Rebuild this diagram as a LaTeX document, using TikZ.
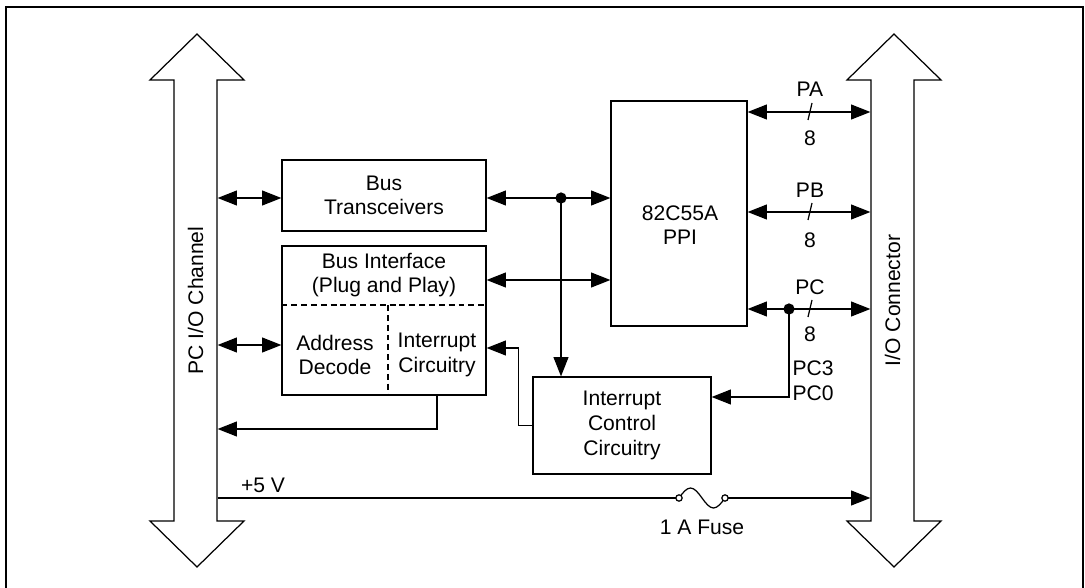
\documentclass[tikz,border=0pt]{standalone}
\usepackage{fontspec}
\setmainfont{Liberation Sans}
\usetikzlibrary{arrows.meta}
\tikzset{
  block/.style={draw, align=center, inner sep=0pt},
  txt/.style={align=center, inner sep=0pt},
  busbody/.style={inner sep=0pt, minimum width=0.86cm, minimum height=8.82cm},
  tapdot/.style={fill=black},
  split line/.style={dash pattern=on 3.4pt off 2.2pt},
}
\begin{document}
\begin{tikzpicture}[x=0.02cm, y=-0.02cm, line width=0.7pt,
    >={Triangle[length=11pt,width=8.5pt]},
    font=\fontsize{12}{14}\selectfont]
  \useasboundingbox (0,0) rectangle (1085,588);
  \draw[line width=1.5pt] (6,590) -- (6,7) -- (1083,7) -- (1083,590);

  \node[busbody] (pcbus) at (195.5,300.5) {};
  \node[busbody] (iobus) at (892.5,300.5) {};
  \draw (174,521) -- (174,80) -- (150,80) -- (197,34) -- (244,80) -- (217,80)
    -- (217,521) -- (244,521) -- (197,567) -- (150,521) -- cycle;
  \draw (871,521) -- (871,80) -- (847,80) -- (894,34) -- (941,80) -- (914,80)
    -- (914,521) -- (941,521) -- (894,567) -- (847,521) -- cycle;
  \node[txt, rotate=90] (pclabel) at (pcbus) {PC I/O Channel};
  \node[txt, rotate=90] (iolabel) at (iobus) {I/O Connector};

  \node[block, minimum width=4.08cm, minimum height=1.42cm] (tr) at (384,195.5) {Bus\\Transceivers};
  \node[block, minimum width=4.08cm, minimum height=2.98cm] (bi) at (384,320.5) {};
  \node[txt] (bitop) at (384,275) {Bus Interface\\(Plug and Play)};
  \node[txt] (ad) at (335,355) {Address\\Decode};
  \node[txt] (ic) at (437,355) {Interrupt\\Circuitry};
  \node[block, minimum width=2.72cm, minimum height=4.5cm] (ppi) at (679,213.5) {};
  \node[txt] (ppilabel) at (680,225) {82C55A\\PPI};
  \node[block, minimum width=3.56cm, minimum height=1.94cm] (icc) at (622,425.5) {Interrupt\\Control\\Circuitry};

  \coordinate (split) at (388,305);
  \draw[split line] (bi.west |- split) -- (bi.east |- split);
  \draw[split line] (split) -- (split |- bi.south);

  \coordinate (rowT) at (0,198);
  \coordinate (rowI) at (0,280);
  \coordinate (rowD) at (0,345);
  \coordinate (rowR) at (0,348);
  \coordinate (rowB) at (0,429);
  \coordinate (rowPA) at (0,112);
  \coordinate (rowPB) at (0,212);
  \coordinate (rowPC) at (0,309);
  \coordinate (rowC0) at (0,397);
  \coordinate (rowV) at (0,498);
  \coordinate (tap) at (561,198);
  \coordinate (pctap) at (789,309);
  \coordinate (fuseL) at (679,498);
  \coordinate (fuseR) at (725,498);

  \draw[<->] (pcbus.east |- rowT) -- (tr.west |- rowT);
  \draw[<->] (tr.east |- rowT) -- (ppi.west |- rowT);
  \draw[<->] (bi.east |- rowI) -- (ppi.west |- rowI);
  \draw[<->] (pcbus.east |- rowD) -- (bi.west |- rowD);
  \draw[->] (ic |- bi.south) |- (pcbus.east |- rowB);
  \draw[->] (icc.west) -- ++(-14,0) |- (bi.east |- rowR);
  \draw[->] (tap) -- (tap |- icc.north);
  \fill[tapdot] (tap) circle (3.2pt);

  \draw[<->] (ppi.east |- rowPA) -- (iobus.west |- rowPA);
  \draw[<->] (ppi.east |- rowPB) -- (iobus.west |- rowPB);
  \draw[<->] (ppi.east |- rowPC) -- (iobus.west |- rowPC);
  \draw (808,120) -- (812,103);
  \draw (808,220) -- (812,203);
  \draw (808,317) -- (812,300);
  \node[txt] (pa) at (810,89) {PA};
  \node[txt] (pa8) at (810,138) {8};
  \node[txt] (pb) at (810,190) {PB};
  \node[txt] (pb8) at (810,240) {8};
  \node[txt] (pc) at (810,287) {PC};
  \node[txt] (pc8) at (810,334) {8};
  \draw[->] (pctap) |- (icc.east |- rowC0);
  \fill[tapdot] (pctap) circle (3.2pt);
  \node[txt, anchor=west] (pc3) at (792,368) {PC3};
  \node[txt, anchor=west] (pc0) at (792,393) {PC0};

  \draw (pcbus.east |- rowV) -- (fuseL);
  \draw (fuseL) sin (690.5,488) cos (702,498) sin (713.5,508) cos (fuseR);
  \draw[->] (fuseR) -- (iobus.west |- rowV);
  \draw[fill=white] (fuseL) circle (1.8pt);
  \draw[fill=white] (fuseR) circle (1.8pt);
  \node[txt] (vlabel) at (263,485) {+5 V};
  \node[txt] (fuselabel) at (702,527) {1 A Fuse};
\end{tikzpicture}
\end{document}
